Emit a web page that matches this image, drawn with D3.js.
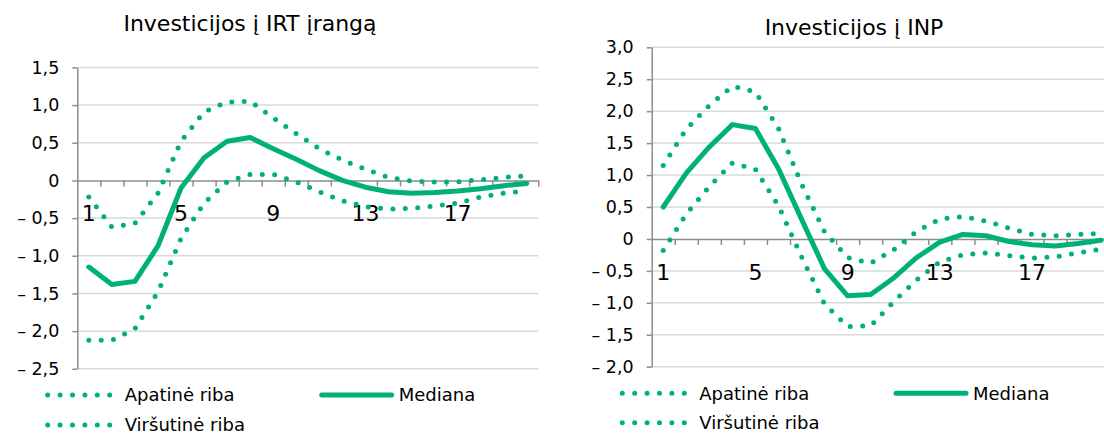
<!DOCTYPE html>
<html>
<head>
<meta charset="utf-8">
<script src="https://cdn.jsdelivr.net/npm/d3@7"></script>
<style>
  body { margin: 0; background: #fff; }
  svg { display: block; font-family: Verdana, "DejaVu Sans", sans-serif; }
</style>
</head>
<body>
<svg id="chart" width="1104" height="435"></svg>
<script>
// quarters after the shock
let categories = [1, 2, 3, 4, 5, 6, 7, 8, 9, 10, 11, 12, 13, 14, 15, 16, 17, 18, 19, 20]
let xLabels = [1, 5, 9, 13, 17]

// Investicijos į IRT įrangą
let irtLower  = [-2.12, -2.12, -1.97, -1.48, -0.77, -0.30, -0.02, 0.08, 0.08, -0.02, -0.15, -0.27, -0.35, -0.38, -0.37, -0.34, -0.30, -0.22, -0.17, -0.14]
let irtMedian = [-1.15, -1.38, -1.34, -0.87, -0.10, 0.30, 0.52, 0.57, 0.42, 0.28, 0.13, 0.00, -0.09, -0.15, -0.17, -0.16, -0.14, -0.11, -0.07, -0.04]
let irtUpper  = [-0.22, -0.62, -0.57, -0.17, 0.52, 0.91, 1.04, 1.05, 0.83, 0.62, 0.42, 0.27, 0.15, 0.04, -0.01, -0.02, -0.02, 0.01, 0.04, 0.06]
let irtTicks  = [1.5, 1.0, 0.5, 0, -0.5, -1.0, -1.5, -2.0, -2.5]

// Investicijos į INP
let inpLower  = [-0.18, 0.39, 0.82, 1.19, 1.09, 0.52, -0.28, -1.02, -1.37, -1.36, -0.98, -0.64, -0.36, -0.25, -0.22, -0.26, -0.30, -0.28, -0.22, -0.16]
let inpMedian = [0.50, 1.03, 1.44, 1.79, 1.73, 1.10, 0.31, -0.47, -0.89, -0.87, -0.61, -0.29, -0.05, 0.07, 0.05, -0.04, -0.09, -0.11, -0.07, -0.02]
let inpUpper  = [1.15, 1.72, 2.09, 2.39, 2.30, 1.73, 0.86, 0.11, -0.29, -0.38, -0.17, 0.12, 0.31, 0.35, 0.28, 0.17, 0.07, 0.05, 0.07, 0.09]
let inpTicks  = [3.0, 2.5, 2.0, 1.5, 1.0, 0.5, 0, -0.5, -1.0, -1.5, -2.0]

let seriesNames = ['Apatinė riba', 'Mediana', 'Viršutinė riba']

let green = '#00b07b',
    gridColor = '#d9d9d9',
    axisColor = '#8c8c8c',
    dotSpacing = 12.4

let $svg = d3.select('#chart')

function fmt(v) {
    if (v === 0) return '0'
    return (v < 0 ? '– ' : '') + d3.format('.1f')(Math.abs(v)).replace('.', ',')
}

function styleLine(sel, dotted) {
    sel.attr('fill', 'none')
        .attr('stroke', green)
        .attr('stroke-width', 5)
        .attr('stroke-linecap', 'round')
        .attr('stroke-linejoin', 'round')
        .attr('stroke-dasharray', dotted ? '0 ' + dotSpacing : null)
}

function drawPanel(p) {
    let $g = $svg.append('g')

    let x = d3.scaleBand().domain(categories).range([p.x0, p.x1])
    let xEdge = d3.scaleLinear().domain([0, categories.length]).range([p.x0, p.x1])
    let y = d3.scaleLinear().domain(p.domain).range([p.yTop, p.yBot])

    // gridlines
    $g.append('g').selectAll('line')
        .data(p.ticks.filter(d => d !== 0))
        .join('line')
        .attr('x1', p.x0).attr('x2', p.x1)
        .attr('y1', d => y(d)).attr('y2', d => y(d))
        .attr('stroke', gridColor)
        .attr('stroke-width', 1.5)

    // y axis
    let $yAxis = $g.append('g')
        .attr('transform', `translate(${p.x0},0)`)
        .call(d3.axisLeft(y).tickValues(p.ticks).tickSize(5).tickSizeOuter(0).tickPadding(13).tickFormat(fmt))
    $yAxis.selectAll('path, line').attr('stroke', axisColor).attr('stroke-width', 1.5)
    $yAxis.selectAll('text').attr('font-size', 17.5).attr('fill', '#000')
        .attr('font-family', 'Verdana, "DejaVu Sans", sans-serif')

    // x labels (under the lines)
    $g.append('g').selectAll('text')
        .data(xLabels)
        .join('text')
        .attr('x', d => x(d) + x.bandwidth() / 2)
        .attr('y', y(0) + 41)
        .attr('text-anchor', 'middle')
        .attr('font-size', 22)
        .attr('fill', '#000')
        .text(d => d)

    // x axis on zero line, ticks between categories
    let $xAxis = $g.append('g')
        .attr('transform', `translate(0,${y(0)})`)
        .call(d3.axisBottom(xEdge).tickValues(d3.range(1, categories.length + 1)).tickSize(6).tickSizeOuter(0).tickFormat(''))
    $xAxis.selectAll('path, line').attr('stroke', axisColor).attr('stroke-width', 1.5)

    // series
    let line = d3.line()
        .x((d, i) => x(categories[i]) + x.bandwidth() / 2)
        .y(d => y(d))

    p.series.forEach((s, i) => {
        $g.append('path').datum(s).attr('d', line).call(styleLine, i !== 1)
    })

    // title
    $svg.append('text')
        .attr('x', p.titleX).attr('y', p.titleY)
        .attr('text-anchor', 'middle')
        .attr('font-size', 22)
        .attr('fill', '#000')
        .text(p.title)

    // legend
    let lg = p.legend
    let items = [
        {name: seriesNames[0], x: lg.x, y: lg.y1, dotted: true},
        {name: seriesNames[1], x: lg.x2, y: lg.y1, dotted: false},
        {name: seriesNames[2], x: lg.x, y: lg.y2, dotted: true}
    ]
    items.forEach(it => {
        let len = it.dotted ? dotSpacing * 5 + 3 : 70
        $svg.append('path')
            .attr('d', `M${it.x},${it.y}H${it.x + len}`)
            .call(styleLine, it.dotted)
        $svg.append('text')
            .attr('x', it.x + 77)
            .attr('y', it.y)
            .attr('dy', '0.36em')
            .attr('font-size', 18)
            .attr('fill', '#000')
            .text(it.name)
    })
}

drawPanel({
    x0: 77.3, x1: 538.3, yTop: 67.4, yBot: 368.8,
    domain: [1.5, -2.5], ticks: irtTicks,
    series: [irtLower, irtMedian, irtUpper],
    title: 'Investicijos į IRT įrangą', titleX: 250, titleY: 31,
    legend: {x: 47.7, x2: 321.7, y1: 395, y2: 425}
})

drawPanel({
    x0: 651.7, x1: 1112.7, yTop: 47.3, yBot: 366.7,
    domain: [3.0, -2.0], ticks: inpTicks,
    series: [inpLower, inpMedian, inpUpper],
    title: 'Investicijos į INP', titleX: 854, titleY: 35,
    legend: {x: 622.3, x2: 896, y1: 393.3, y2: 422.7}
})
</script>
</body>
</html>
